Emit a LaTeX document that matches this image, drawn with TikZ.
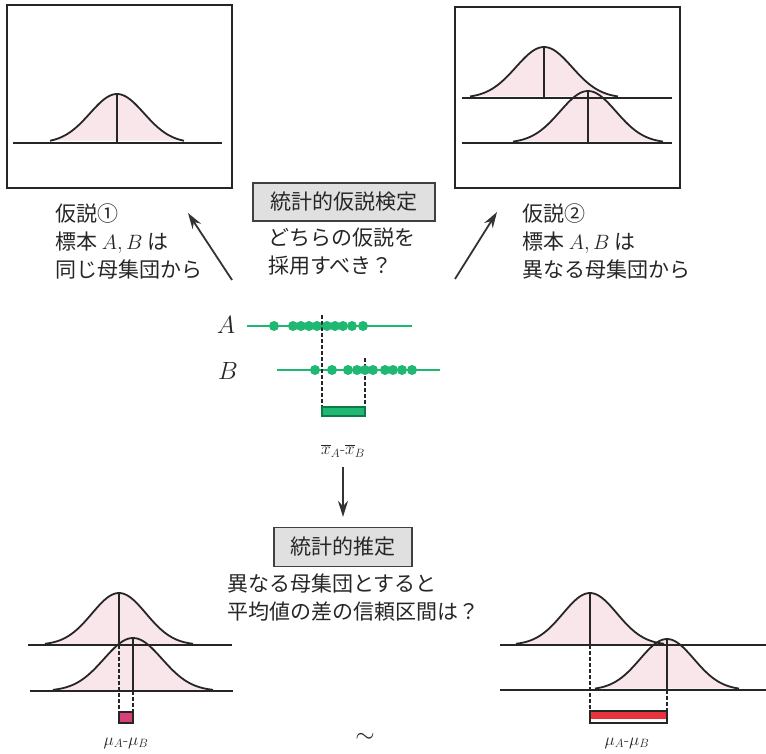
\documentclass[tikz,border=0pt]{standalone}
\usepackage{fontspec}
\newfontfamily\jpfont{Noto Sans CJK JP}
\usepackage{tikz}
\usetikzlibrary{arrows.meta,positioning}
\definecolor{bellpink}{HTML}{F8E6EA}
\definecolor{dotgreen}{HTML}{1FB872}
\definecolor{bargreen}{HTML}{0D7A48}
\definecolor{barred}{HTML}{E8323C}
\definecolor{barmag}{HTML}{D8407A}
\tikzset{
  panel/.style={draw=black!85,line width=2pt},
  jtext/.style={font=\jpfont\fontsize{21}{28}\selectfont,inner sep=0pt,align=left,text=black!85},
  titlebox/.style={draw=black!75,fill=black!12,line width=1.2pt,font=\jpfont\fontsize{21}{24}\selectfont,text=black!85},
  baseln/.style={line width=2pt,black!85},
  bellln/.style={line width=1.8pt,black!85},
  meanln/.style={line width=1.5pt,black!85},
  dashln/.style={line width=1.3pt,black!85,dash pattern=on 4pt off 2pt},
  hyparrow/.style={-{Stealth[length=16pt,width=10pt]},line width=1.8pt,black!80},
  gline/.style={line width=1.6pt,dotgreen},
  gdot/.style={circle,fill=dotgreen,inner sep=0pt,minimum size=10pt},
  smalllbl/.style={font=\fontsize{17}{19}\selectfont,inner sep=0pt,text=black!85},
}
% mu, base, height, sigma, half width
\newcommand{\bellfill}[5]{%
  \fill[bellpink] plot[smooth,domain=#1-#5:#1+#5,samples=61] (\x,{#2-#3*exp(-0.5*((\x-#1)/#4)^2)}) -- cycle;}
\newcommand{\belldraw}[5]{%
  \draw[bellln] plot[smooth,domain=#1-#5:#1+#5,samples=61] (\x,{#2-#3*exp(-0.5*((\x-#1)/#4)^2)});
  \draw[meanln] (#1,#2-#3) -- (#1,#2);}

\begin{document}
\begin{tikzpicture}[x=1pt,y=-1pt]
\useasboundingbox (0,0) rectangle (766,754);

% hypothesis panels
\node[panel,minimum width=225pt,minimum height=183pt] (panelL) at (119.5,96.5) {};
\node[panel,minimum width=225pt,minimum height=181pt] (panelR) at (567.5,97.5) {};

\bellfill{117}{143}{49}{27}{67}
\draw[baseln] (13,143) -- (222,143);
\belldraw{117}{143}{49}{27}{67}

\bellfill{544}{98}{51}{28}{74}
\bellfill{588}{143}{52}{28}{75}
\draw[baseln] (462,98) -- (672,98);
\draw[baseln] (462,143) -- (672,143);
\belldraw{544}{98}{51}{28}{74}
\belldraw{588}{143}{52}{28}{75}

% texts
\node[titlebox,minimum width=182pt,minimum height=38pt] (testbox) at (344,202) {統計的仮説検定};
\node[jtext,anchor=north west] (question) at (268,228) {どちらの仮説を\\採用すべき？};
\node[jtext,anchor=north west] (hypA) at (55,204) {仮説①\\標本 $A,B$ は\\同じ母集団から};
\node[jtext,anchor=north west] (hypB) at (522,204) {仮説②\\標本 $A,B$ は\\異なる母集団から};

\coordinate (tailL) at (232,280);
\coordinate (headL) at (188,213);
\coordinate (tailR) at (455,279);
\coordinate (headR) at (497,212);
\draw[hyparrow] (tailL) -- (headL);
\draw[hyparrow] (tailR) -- (headR);

% samples A and B
\node[font=\fontsize{23}{26}\selectfont,inner sep=0pt,text=black!85] (labA) at (226,325) {$A$};
\node[font=\fontsize{23}{26}\selectfont,inner sep=0pt,text=black!85] (labB) at (228,371) {$B$};
\draw[gline] (247,326) -- (412,326);
\draw[gline] (277,370) -- (440,370);
\draw[dashln] (322,315) -- (322,412);
\draw[dashln] (365,358) -- (365,412);
\foreach \px in {274,293,301,309,317,327,335,343,352,363}
  \node[gdot] at (\px,326) {};
\foreach \px in {315,332,348,357,365,373,385,393,402,412}
  \node[gdot] at (\px,370) {};
\draw[bargreen,line width=1.5pt,fill=dotgreen] (322,407) rectangle (365,416);
\node[smalllbl] (xdiff) at (343,451) {$\overline{x}_A$-$\overline{x}_B$};

\node[titlebox,minimum width=138pt,minimum height=39pt] (estbox) at (343,547) {統計的推定};
\draw[hyparrow] ([yshift=-10pt]xdiff.south) -- ([yshift=10pt]estbox.north);
\node[jtext,anchor=north west] (estq) at (227,574) {異なる母集団とすると\\平均値の差の信頼区間は？};

% estimation, left
\bellfill{119}{645}{52}{27}{74}
\bellfill{133}{691}{53}{29}{80}
\draw[baseln] (28,645) -- (232,645);
\draw[baseln] (30,691) -- (233,691);
\belldraw{119}{645}{52}{27}{74}
\belldraw{133}{691}{53}{29}{80}
\draw[dashln] (119,645) -- (119,712);
\draw[dashln] (133,691) -- (133,712);
\draw[black!85,line width=1.3pt,fill=barmag] (119,712) rectangle (133,723);
\node[smalllbl] (muL) at (126,743) {$\mu_A$-$\mu_B$};

% estimation, right
\bellfill{590}{645}{52}{27}{74}
\bellfill{667}{690}{51}{27}{72}
\draw[baseln] (500,645) -- (766,645);
\draw[baseln] (500,690) -- (766,690);
\belldraw{590}{645}{52}{27}{74}
\belldraw{667}{690}{51}{27}{72}
\draw[dashln] (590,645) -- (590,711);
\draw[dashln] (667,690) -- (667,711);
\fill[barred] (590,711) rectangle (667,719);
\draw[black!85,line width=1.3pt] (590,711) rectangle (667,723);
\node[smalllbl] (muR) at (627,743) {$\mu_A$-$\mu_B$};

\node[font=\fontsize{24}{26}\selectfont,inner sep=0pt,text=black!85] (tilde) at (365,738) {$\sim$};
\end{tikzpicture}
\end{document}
